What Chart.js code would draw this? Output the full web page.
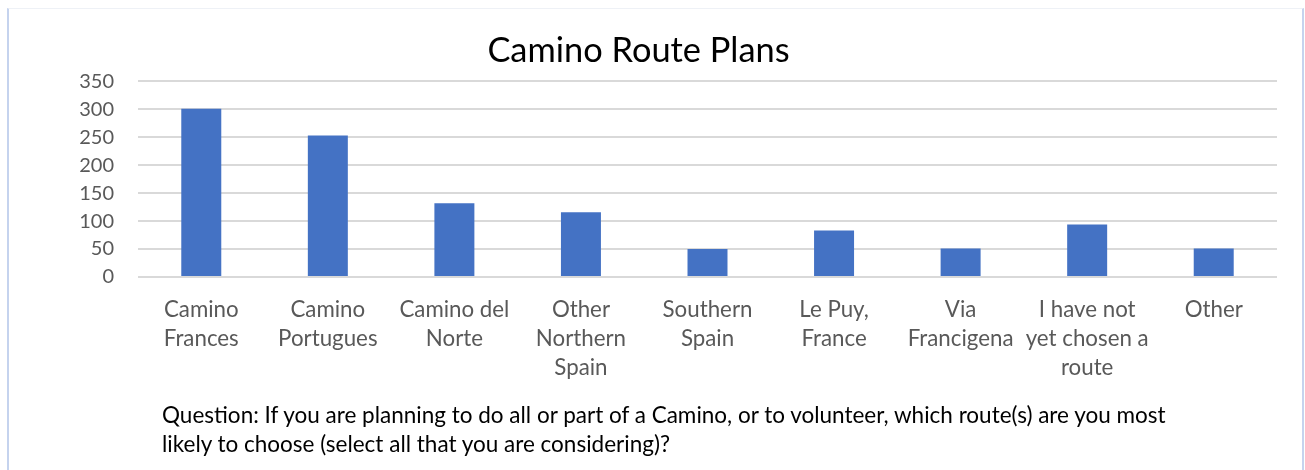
<!DOCTYPE html>
<html>
<head>
<meta charset="utf-8">
<script src="https://cdn.jsdelivr.net/npm/chart.js@4/dist/chart.umd.min.js"></script>
<style>
  html, body { margin: 0; padding: 0; background: #ffffff; }
  body { width: 1305px; height: 470px; position: relative; overflow: hidden; font-family: Lato, "Open Sans", sans-serif; }
  #frame { position: absolute; left: 7px; top: 8px; width: 1293px; height: 520px;
           border-top: 1px solid #eef1f6; border-left: 2px solid #c5d3ee; border-right: 2px solid #c5d3ee; }
  #chart { position: absolute; left: 0; top: 0; }
  #caption { position: absolute; left: 162px; top: 400px; font-size: 22.5px; line-height: 29px; color: #000; white-space: nowrap; }
</style>
</head>
<body>
<div id="frame"></div>
<canvas id="chart" width="1305" height="470"></canvas>
<div id="caption">Question: If you are planning to do all or part of a Camino, or to volunteer, which route(s) are you most<br>likely to choose (select all that you are considering)?</div>
<script>
const chartTitle = "Camino Route Plans";
const categories = [
  ["Camino", "Frances"],
  ["Camino", "Portugues"],
  ["Camino del", "Norte"],
  ["Other", "Northern", "Spain"],
  ["Southern", "Spain"],
  ["Le Puy,", "France"],
  ["Via", "Francigena"],
  ["I have not", "yet chosen a", "route"],
  ["Other"]
];
const responses = [301, 253, 132, 116, 50, 83, 51, 94, 51];
const yTicks = [0, 50, 100, 150, 200, 250, 300, 350];

Chart.defaults.font.family = "Lato, 'Open Sans', sans-serif";

new Chart(document.getElementById('chart'), {
  type: 'bar',
  data: {
    labels: categories,
    datasets: [{
      data: responses,
      backgroundColor: '#4472C4',
      borderWidth: 0,
      categoryPercentage: 1,
      barPercentage: 0.316
    }]
  },
  options: {
    responsive: false,
    animation: false,
    layout: { padding: { left: 0, right: 28, top: 0, bottom: 83 } },
    plugins: {
      legend: { display: false },
      tooltip: { enabled: false },
      title: {
        display: true,
        text: chartTitle,
        color: '#000000',
        font: { size: 34.4, weight: 'normal', lineHeight: 1.2 },
        padding: { top: 30, bottom: 10 }
      }
    },
    scales: {
      x: {
        grid: { display: false, drawTicks: false },
        border: { display: false },
        ticks: {
          color: '#595959',
          font: { size: 22.3, lineHeight: 29 / 22.3 },
          padding: 18,
          maxRotation: 0,
          minRotation: 0,
          autoSkip: false
        },
        afterFit: (s) => { s.height = 110; }
      },
      y: {
        min: yTicks[0],
        max: yTicks[yTicks.length - 1],
        afterBuildTicks: (s) => { s.ticks = yTicks.map(v => ({ value: v })); },
        grid: { color: '#d9d9d9', lineWidth: 2, drawTicks: false },
        border: { display: false },
        ticks: {
          color: '#595959',
          font: { size: 20 },
          padding: 24
        },
        afterFit: (s) => { s.width = 138; }
      }
    }
  }
});
</script>
</body>
</html>
